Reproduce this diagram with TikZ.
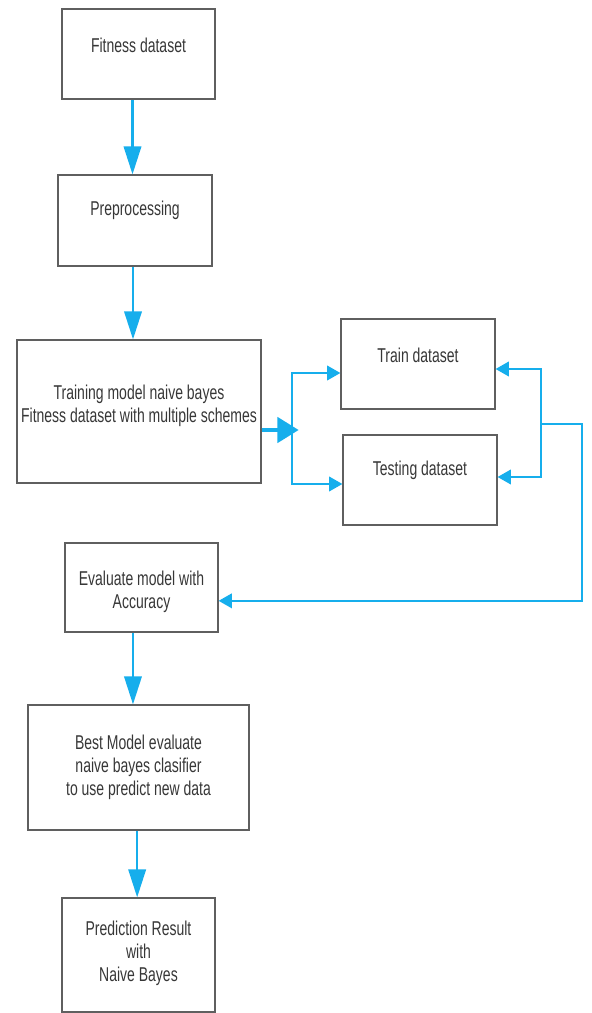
\documentclass[tikz,border=0pt]{standalone}
\usepackage{fontspec}
\setmainfont{Liberation Sans}[FakeStretch=0.7]
\usepackage{xcolor}
\usepackage{tikz}
\usetikzlibrary{arrows.meta}
\definecolor{flowblue}{RGB}{22,174,236}
\definecolor{boxgray}{RGB}{95,95,95}
\definecolor{inkgray}{RGB}{55,55,55}

\begin{document}
\begin{tikzpicture}[x=0.75pt, y=-0.75pt, every node/.style={align=center},
box/.style={draw=boxgray, line width=0.9pt, inner sep=0pt},
txt/.style={text=inkgray, inner sep=0pt, font=\fontsize{15}{17.25}\selectfont},
flow/.style={draw=flowblue, line width=1.9pt, -{Triangle[length=21pt, width=13pt]}},
link/.style={draw=flowblue, line width=1.4pt, -{Triangle[length=10pt, width=11pt]}},
push/.style={draw=flowblue, line width=3pt, -{Triangle[length=16pt, width=19pt]}}]
\useasboundingbox (0,0) rectangle (592,1013);
\node[box, minimum width=114.75pt, minimum height=67.5pt,
  label={[txt, name=fittxt, yshift=6.4pt]center:Fitness dataset}] (fit) at (138.5,54) {};
\node[box, minimum width=115.5pt, minimum height=68.25pt,
  label={[txt, name=pretxt, yshift=7.4pt]center:Preprocessing}] (pre) at (135,220.5) {};
\node[box, minimum width=183pt, minimum height=107.25pt,
  label={[txt, name=trmtxt, yshift=4.6pt]center:{Training model naive bayes\\Fitness dataset with multiple schemes}}] (trm) at (139,411.5) {};
\node[box, minimum width=115.5pt, minimum height=67.5pt,
  label={[txt, name=trntxt, yshift=6.4pt]center:Train dataset}] (trn) at (418,364) {};
\node[box, minimum width=115.5pt, minimum height=67.5pt,
  label={[txt, name=tsttxt, yshift=7.6pt]center:Testing dataset}] (tst) at (420,480) {};
\node[box, minimum width=114.75pt, minimum height=66.75pt,
  label={[txt, name=evaltxt, yshift=-3pt]center:{Evaluate model with\\Accuracy}}] (eval) at (141.5,587.5) {};
\node[box, minimum width=165.75pt, minimum height=93.75pt,
  label={[txt, name=besttxt, yshift=0pt]center:{Best Model evaluate\\naive bayes clasifier\\to use predict new data}}] (best) at (138.5,767.5) {};
\node[box, minimum width=114.75pt, minimum height=85.5pt,
  label={[txt, name=predtxt, yshift=1pt]center:{Prediction Result\\with\\Naive Bayes}}] (pred) at (138.5,955) {};
\coordinate (fork) at (292,430);
\coordinate (jn) at (541,424);
\coordinate (rc) at (582,424);
% main flow
\draw[flow] ([xshift=-4.5pt]fit.south) -- ([xshift=-4.5pt]fit.south |- pre.north);
\draw[flow] ([xshift=-1.5pt]pre.south) -- ([xshift=-1.5pt]pre.south |- trm.north);
\draw[flow] ([xshift=-6.4pt]eval.south) -- ([xshift=-6.4pt]eval.south |- best.north);
\draw[flow] ([xshift=-1pt]best.south) -- ([xshift=-1pt]best.south |- pred.north);
% split into train / test
\draw[link] (fork) |- ([yshift=-6.75pt]trn.west);
\draw[link] (fork) |- ([yshift=-3pt]tst.west);
\draw[push] (trm.east |- fork) -- ([xshift=5pt]fork);
% back to evaluation
\draw[link] (jn) |- ([yshift=-3.75pt]trn.east);
\draw[link] (jn) |- ([yshift=2.25pt]tst.east);
\draw[link] (jn) -- (rc) |- ([yshift=-10pt]eval.east);
\end{tikzpicture}
\end{document}
